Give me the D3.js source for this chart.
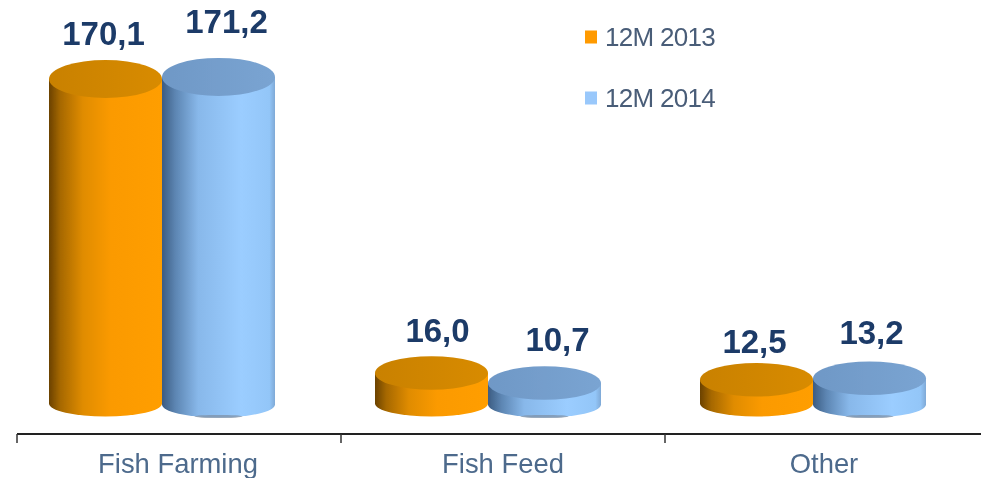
<!DOCTYPE html>
<html><head><meta charset="utf-8">
<script src="https://cdn.jsdelivr.net/npm/d3@7"></script>
<style>html,body{margin:0;padding:0;background:#fff}svg{display:block}</style>
</head><body><div id="c"></div>
<script>
const categories = ["Fish Farming", "Fish Feed", "Other"];
const seriesNames = ["12M 2013", "12M 2014"];
const values2013 = [170.1, 16.0, 12.5];
const values2014 = [171.2, 10.7, 13.2];
const labels2013 = ["170,1", "16,0", "12,5"];
const labels2014 = ["171,2", "10,7", "13,2"];

const W = 981, H = 478;
const svg = d3.select("#c").append("svg").attr("width", W).attr("height", H);
const defs = svg.append("defs");
const soft = defs.append("filter").attr("id", "soft").attr("filterUnits", "userSpaceOnUse")
  .attr("x", 0).attr("y", 0).attr("width", W).attr("height", H);
soft.append("feGaussianBlur").attr("stdDeviation", 0.7);

function grad(id, stops) {
  const g = defs.append("linearGradient").attr("id", id).attr("x1", 0).attr("x2", 1).attr("y1", 0).attr("y2", 0);
  stops.forEach(s => g.append("stop").attr("offset", s[0]).attr("stop-color", s[1]));
}
grad("side0", [[0, "#6b4200"], [0.1, "#a66800"], [0.3, "#e08c00"], [0.55, "#fb9a00"], [1, "#ff9e00"]]);
grad("side1", [[0, "#3c5c82"], [0.12, "#5d86b3"], [0.32, "#88b8ea"], [0.7, "#9bcdff"], [0.95, "#93c6f8"], [1, "#7fa9d6"]]);
grad("top0", [[0, "#c98100"], [1, "#d88b00"]]);
grad("top1", [[0, "#6f98c6"], [1, "#7aa4d2"]]);

const root = svg.append("g").attr("filter", "url(#soft)");
root.append("rect").attr("width", W).attr("height", H).attr("fill", "#fff");

const x = d3.scaleBand().domain(categories).range([17, 989]);
const y = d3.scaleLinear().domain([0, 170.1]).range([403.5, 79]);
const barW = 113, baseRy = 13;
const pairShift = [-17, -15, -14];
const catShift = [-1, 0, -3];
const series = [
  { i: 0, vals: values2013, labs: labels2013, dy: [-15, -14, -10], dx: [-2, 6, -2] },
  { i: 1, vals: values2014, labs: labels2014, dy: [-25, -15, -18], dx: [8, 13, 2] }
];
const topRy = v => 16.6 + v * 0.014;
const cx = (c, s, k) => x(c) + x.bandwidth() / 2 + pairShift[k] + (s === 0 ? -barW / 2 : barW / 2);

series.forEach(s => {
  categories.forEach((c, k) => {
    const v = s.vals[k], mx = cx(c, s.i, k), rx = barW / 2;
    const yt = y(v), yb = y(0) + (s.i === 1 ? 1 : 0), ry = topRy(v);
    root.append("path")
      .attr("d", `M${mx - rx},${yt} L${mx - rx},${yb} A${rx},${baseRy} 0 0 0 ${mx + rx},${yb} L${mx + rx},${yt} Z`)
      .attr("fill", `url(#side${s.i})`);
    root.append("ellipse")
      .attr("cx", mx).attr("cy", yt).attr("rx", rx).attr("ry", ry)
      .attr("fill", `url(#top${s.i})`);
    if (s.i === 1) {
      root.append("ellipse").attr("cx", mx).attr("cy", yb + baseRy - 1).attr("rx", 24).attr("ry", 1.6).attr("fill", "#7d8fa3").attr("opacity", .7);
    }
  });
});

series.forEach(s => {
  categories.forEach((c, k) => {
    const v = s.vals[k];
    root.append("text")
      .attr("x", cx(c, s.i, k) + s.dx[k])
      .attr("y", y(v) - topRy(v) + s.dy[k])
      .attr("text-anchor", "middle")
      .attr("font-family", "Liberation Sans, Arial, sans-serif")
      .attr("font-weight", 700).attr("font-size", 33)
      .attr("fill", "#1d3a68")
      .text(s.labs[k]);
  });
});

const axisY = 434;
root.append("line").attr("x1", 17).attr("x2", W).attr("y1", axisY).attr("y2", axisY).attr("stroke", "#222").attr("stroke-width", 2);
categories.forEach((c, k) => {
  root.append("line").attr("x1", x(c)).attr("x2", x(c)).attr("y1", axisY).attr("y2", axisY + 9).attr("stroke", "#333").attr("stroke-width", 1.5);
  root.append("text").attr("x", x(c) + x.bandwidth() / 2 + catShift[k]).attr("y", 473)
    .attr("text-anchor", "middle")
    .attr("font-family", "Liberation Sans, Arial, sans-serif")
    .attr("font-size", 27.4).attr("fill", "#4d6a8c").text(c);
});

const legendColors = ["#ff9a00", "#99c8fb"];
const legendY = d3.scalePoint().domain(seriesNames).range([37, 98]);
seriesNames.forEach((n, i) => {
  root.append("rect").attr("x", 585).attr("y", legendY(n) - 6.5).attr("width", 12).attr("height", 13).attr("fill", legendColors[i]);
  root.append("text").attr("x", 605).attr("y", legendY(n) + 9)
    .attr("font-family", "Liberation Sans, Arial, sans-serif")
    .attr("font-size", 26).attr("letter-spacing", -0.7).attr("fill", "#4a5d78").text(n);
});
</script></body></html>
